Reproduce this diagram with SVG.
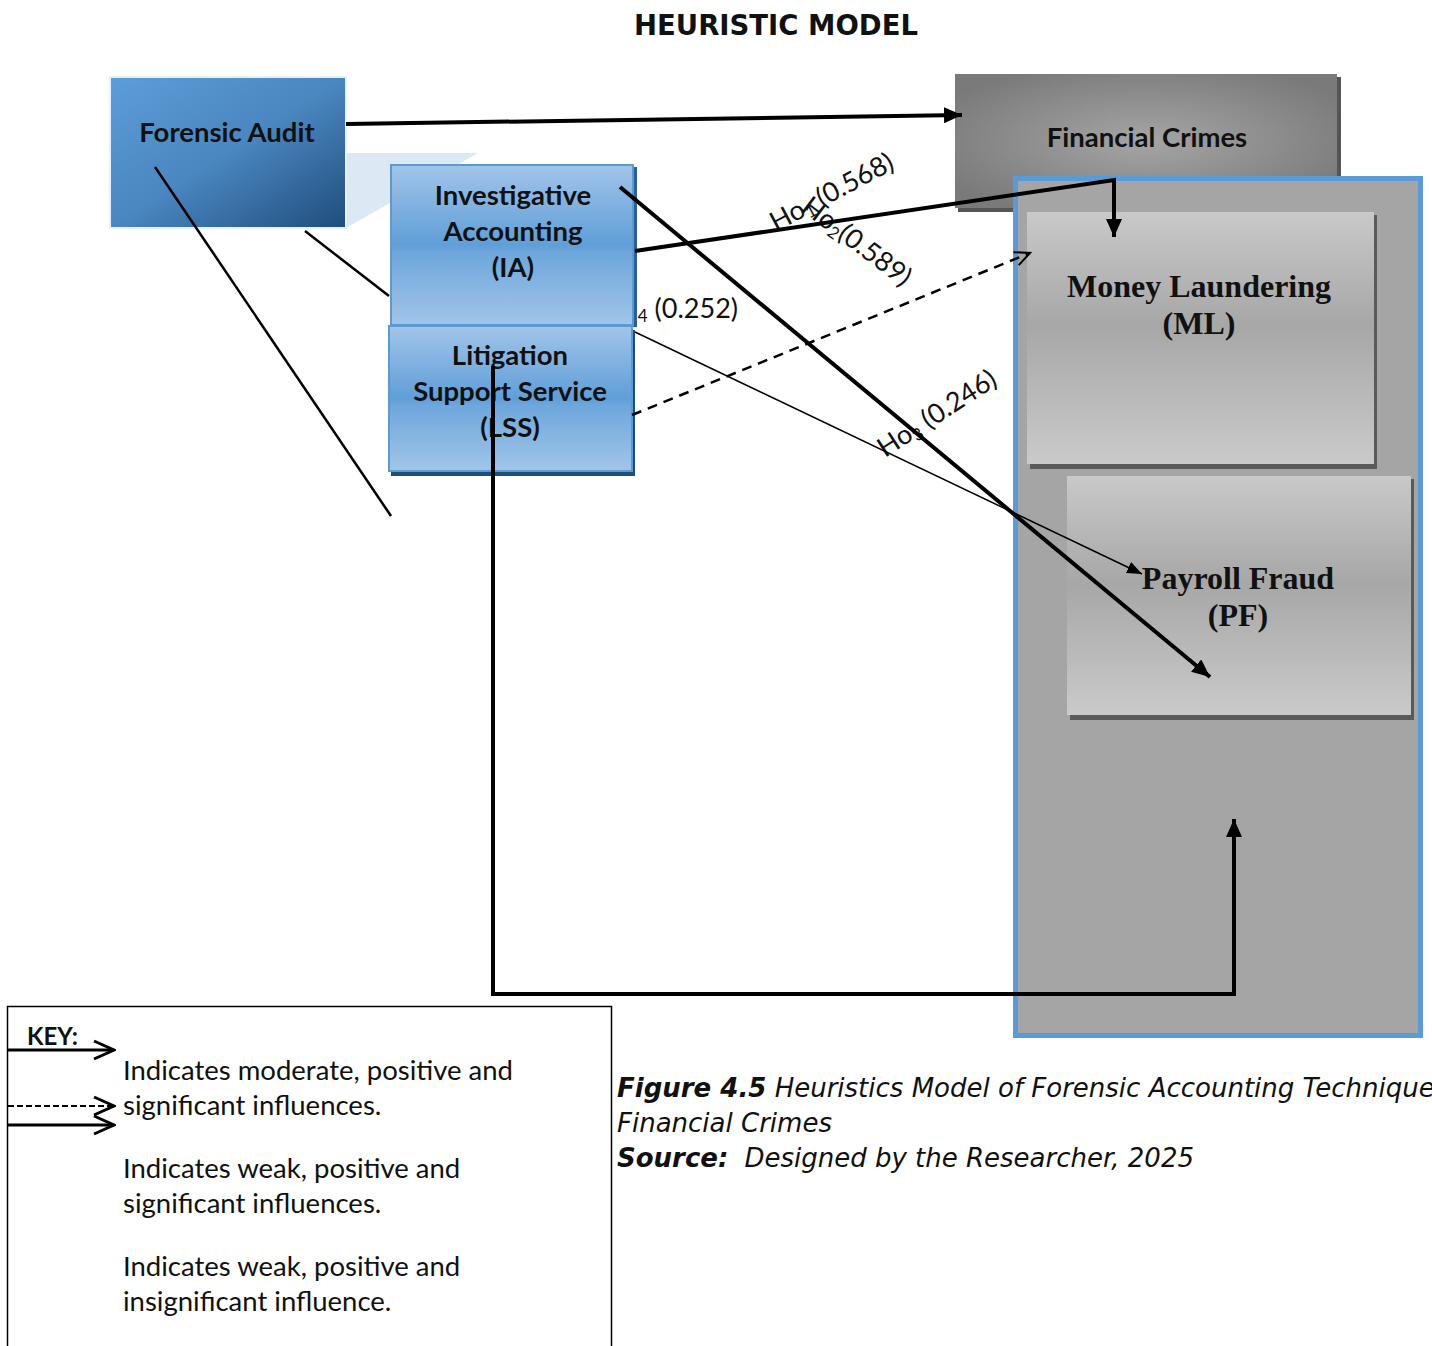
<svg xmlns="http://www.w3.org/2000/svg" width="1432" height="1346" viewBox="0 0 1432 1346">
<style>
.node-t{font-family:Lato,"Open Sans",sans-serif;font-weight:bold;font-size:27.5px;fill:#111;text-anchor:middle}
.serif-t{font-family:"Liberation Serif","Times New Roman",serif;font-weight:bold;font-size:32px;fill:#111;text-anchor:middle}
.lbl{font-family:Lato,"Open Sans",sans-serif;font-size:27px;fill:#111}
.key-t{font-family:Lato,"Open Sans",sans-serif;font-size:27.5px;fill:#111}
.cap{font-family:"DejaVu Sans",sans-serif;font-style:italic;font-size:26px;fill:#111}
.thick{stroke:#000;stroke-width:4;fill:none}
.med{stroke:#000;stroke-width:2.5;fill:none}
.thin{stroke:#000;stroke-width:1.5;fill:none}
</style>
<defs>
<linearGradient id="gFA" x1="0" y1="0" x2="1" y2="1">
<stop offset="0" stop-color="#5d9dd8"/><stop offset="0.5" stop-color="#4a86c0"/><stop offset="1" stop-color="#1f4d7c"/>
</linearGradient>
<linearGradient id="gBlue" x1="0" y1="0" x2="0" y2="1">
<stop offset="0" stop-color="#a2c5e9"/><stop offset="0.5" stop-color="#609ed8"/><stop offset="0.55" stop-color="#6ea7dc"/><stop offset="1" stop-color="#a2c5e9"/>
</linearGradient>
<radialGradient id="gFC" cx="0.5" cy="0.5" r="0.6">
<stop offset="0" stop-color="#a5a5a5"/><stop offset="1" stop-color="#7a7a7a"/>
</radialGradient>
<linearGradient id="gGray" x1="0" y1="0" x2="0" y2="1">
<stop offset="0" stop-color="#c9c9c9"/><stop offset="0.45" stop-color="#a7a7a7"/><stop offset="1" stop-color="#cacaca"/>
</linearGradient>
<marker id="ah" markerUnits="userSpaceOnUse" markerWidth="20" markerHeight="16" refX="18" refY="8" orient="auto">
<path d="M0,0 L18,8 L0,16 Z" fill="#000"/>
</marker>
<marker id="ahs" markerUnits="userSpaceOnUse" markerWidth="16" markerHeight="12" refX="15" refY="6" orient="auto">
<path d="M0,0 L15,6 L0,12 Z" fill="#000"/>
</marker>
<marker id="aho" markerUnits="userSpaceOnUse" markerWidth="20" markerHeight="16" refX="17" refY="8" orient="auto">
<path d="M2,1 L17,8 L2,15" fill="none" stroke="#000" stroke-width="2"/>
</marker>
<marker id="ahk" markerUnits="userSpaceOnUse" markerWidth="26" markerHeight="22" refX="24" refY="11" orient="auto">
<path d="M4,2 L24,11 L4,20" fill="none" stroke="#000" stroke-width="3"/>
</marker>
</defs>
<rect width="1432" height="1346" fill="#fff"/>

<text x="776" y="35" font-family="DejaVu Sans,sans-serif" font-weight="bold" font-size="27.5" text-anchor="middle" fill="#111">HEURISTIC MODEL</text>

<g id="labels">
<text class="lbl" transform="translate(776,232) rotate(-28)">Ho<tspan font-size="17" dy="4">1</tspan><tspan dy="-4"> (0.568)</tspan></text>
<text class="lbl" transform="translate(800,210) rotate(37)">Ho<tspan font-size="17" dy="4">2</tspan><tspan dy="-4">(0.589)</tspan></text>
<text class="lbl" x="738" y="318" text-anchor="end">Ho<tspan font-size="17" dy="4">4</tspan><tspan dy="-4"> (0.252)</tspan></text>
<text class="lbl" transform="translate(885,458) rotate(-33)">Ho<tspan font-size="17" dy="4">3</tspan><tspan dy="-4"> (0.246)</tspan></text>
</g>

<g id="forensic-audit">
<polygon points="346,153 478,153 346,228" fill="#dce8f4"/>
<rect x="110" y="77" width="236" height="151" fill="url(#gFA)" stroke="#e8f0f8" stroke-width="2"/>
<text class="node-t" x="227" y="142">Forensic Audit</text>
</g>

<g id="investigative-accounting">
<rect x="393" y="167" width="244" height="160" fill="#2e5f91"/>
<rect x="391" y="165" width="242" height="160" fill="url(#gBlue)" stroke="#5b9bd5" stroke-width="2"/>
<text class="node-t" x="513" y="205">Investigative</text>
<text class="node-t" x="513" y="241">Accounting</text>
<text class="node-t" x="513" y="277">(IA)</text>
</g>

<g id="litigation-support">
<rect x="391" y="330" width="244" height="146" fill="#1f4e79"/>
<rect x="389" y="326" width="243" height="145" fill="url(#gBlue)" stroke="#5b9bd5" stroke-width="2"/>
<text class="node-t" x="510" y="365">Litigation</text>
<text class="node-t" x="510" y="401">Support Service</text>
<text class="node-t" x="510" y="437">(LSS)</text>
</g>

<g id="financial-crimes">
<rect x="958" y="77" width="383" height="135" fill="#555"/>
<rect x="955" y="74" width="382" height="134" fill="url(#gFC)"/>
<text class="node-t" x="1147" y="147">Financial Crimes</text>
</g>

<g id="financial-crimes-container">
<rect x="1015.5" y="178.5" width="405" height="857" fill="#a5a5a5" stroke="#5b9bd5" stroke-width="5"/>
</g>

<g id="money-laundering">
<rect x="1030" y="215" width="347" height="254" fill="#5a5a5a"/>
<rect x="1027" y="212" width="347" height="252" fill="url(#gGray)"/>
<text class="serif-t" x="1199" y="297">Money Laundering</text>
<text class="serif-t" x="1199" y="334">(ML)</text>
</g>

<g id="payroll-fraud">
<rect x="1070" y="479" width="344" height="241" fill="#5a5a5a"/>
<rect x="1067" y="476" width="344" height="239" fill="url(#gGray)"/>
<text class="serif-t" x="1238" y="589">Payroll Fraud</text>
<text class="serif-t" x="1238" y="626">(PF)</text>
</g>

<g id="connectors">
<line class="thick" x1="346" y1="124" x2="962" y2="115" marker-end="url(#ah)"/>
<line class="med" x1="155" y1="167" x2="391" y2="516"/>
<line class="med" x1="305" y1="231" x2="389" y2="296"/>
<polyline class="thick" points="635,251 1114,180 1114,237" marker-end="url(#ah)"/>
<line class="thick" x1="620" y1="187" x2="1210" y2="677" marker-end="url(#ah)"/>
<line class="thin" x1="635" y1="332" x2="1142" y2="574" marker-end="url(#ahs)"/>
<line stroke="#000" stroke-width="2.5" stroke-dasharray="10,7" x1="632" y1="415" x2="1030" y2="253" marker-end="url(#aho)"/>
<polyline class="thick" points="493,366 493,994 1234,994 1234,819" marker-end="url(#ah)"/>
</g>

<g id="key">
<rect x="7.5" y="1006.5" width="604" height="345" fill="none" stroke="#000" stroke-width="1.5"/>
<text x="27" y="1045" font-family="Lato,'Open Sans',sans-serif" font-weight="bold" font-size="24" fill="#111">KEY:</text>
<line stroke="#000" stroke-width="3" x1="8" y1="1050" x2="114" y2="1050" marker-end="url(#ahk)"/>
<line stroke="#000" stroke-width="2" stroke-dasharray="6,3" x1="8" y1="1106" x2="114" y2="1106" marker-end="url(#ahk)"/>
<line stroke="#000" stroke-width="3" x1="8" y1="1125" x2="114" y2="1125" marker-end="url(#ahk)"/>
<text class="key-t" x="123" y="1080">Indicates moderate, positive and</text>
<text class="key-t" x="123" y="1115">significant influences.</text>
<text class="key-t" x="123" y="1178">Indicates weak, positive and</text>
<text class="key-t" x="123" y="1213">significant influences.</text>
<text class="key-t" x="123" y="1276">Indicates weak, positive and</text>
<text class="key-t" x="123" y="1311">insignificant influence.</text>
</g>

<g id="caption">
<text class="cap" x="617" y="1097"><tspan font-weight="bold">Figure 4.5</tspan> Heuristics Model of Forensic Accounting Techniques</text>
<text class="cap" x="617" y="1132">Financial Crimes</text>
<text class="cap" x="617" y="1167"><tspan font-weight="bold">Source:</tspan><tspan dx="16">Designed by the Researcher, 2025</tspan></text>
</g>
</svg>
